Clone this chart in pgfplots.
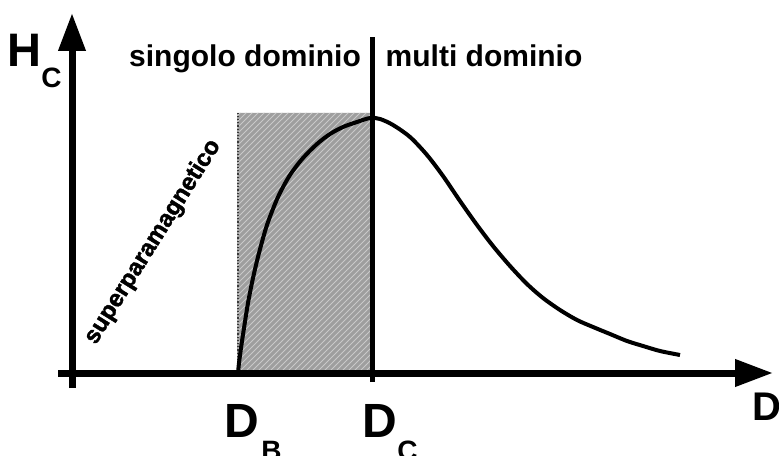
\documentclass[border=0pt]{standalone}
\usepackage{pgfplots}
\pgfplotsset{compat=1.18}
\usepackage{fontspec}
\setmainfont{Liberation Sans}
\newfontfamily\heavyfont[BoldFeatures={FakeBold=1.6}]{Liberation Sans}
\usetikzlibrary{arrows.meta,patterns}

% Coercive field H_C versus particle diameter D (schematic)
\pgfplotstableread{
x   y
166 0
167 10
169 25
172 45
176 70
181 95
187 120
195 148
206 176
218 198
231 215
245 229
258 239
271 246
285 251
298 255
308 254
321 248
338 236
355 218
371 197
388 172
405 148
421 127
438 107
455 89
471 75
488 63
505 53
521 46
538 39
555 32
571 27
588 22
608 18
}\hccurve

\begin{document}
\begin{tikzpicture}
\begin{axis}[
  scale only axis,
  width=389.5pt, height=227.5pt,
  xmin=-72, xmax=707, ymin=-82, ymax=373,
  hide axis, clip=false,
  font=\bfseries,
]
% single-domain region between D_B and D_C
\addplot[draw=none, fill=gray!76] coordinates {(165,0) (165,260) (299,260) (299,0)} \closedcycle;
\addplot[draw=none, pattern=north east lines, pattern color=gray!42] coordinates {(165,0) (165,260) (299,260) (299,0)} \closedcycle;
\addplot[gray!45!black, line width=0.6pt, densely dotted] coordinates {(166,0) (166,260)};

% H_C(D)
\addplot[black, line width=2pt, smooth] table[x=x, y=y] {\hccurve};

% axes
\addplot[black, line width=3.5pt, -{Triangle[length=19pt, width=13pt]}] coordinates {(-14,0) (701,0)};
\addplot[black, line width=3.5pt, -{Triangle[length=19pt, width=13pt]}] coordinates {(0,-15) (0,360)};
% critical diameter D_C
\addplot[black, line width=2.5pt] coordinates {(300,-9) (300,336)};

% labels
\node[anchor=base west, inner sep=0, font=\bfseries\fontsize{23.5}{24}\selectfont] at (axis cs:-65,306) {H};
\node[anchor=base west, inner sep=0, font=\bfseries\fontsize{14}{15}\selectfont] at (axis cs:-31,285) {C};
\node[anchor=base, inner sep=0, font=\bfseries\fontsize{15}{16}\selectfont] at (axis cs:173,306) {singolo dominio};
\node[anchor=base, inner sep=0, font=\bfseries\fontsize{15}{16}\selectfont] at (axis cs:412,306) {multi dominio};
\node[rotate=58, inner sep=0, font=\heavyfont\bfseries\fontsize{12}{13}\selectfont] at (axis cs:81,131) {superparamagnetico};
\node[anchor=base west, inner sep=0, font=\bfseries\fontsize{24}{25}\selectfont] at (axis cs:152,-64) {D};
\node[anchor=base west, inner sep=0, font=\bfseries\fontsize{14}{15}\selectfont] at (axis cs:189,-87) {B};
\node[anchor=base west, inner sep=0, font=\bfseries\fontsize{24}{25}\selectfont] at (axis cs:290,-64) {D};
\node[anchor=base west, inner sep=0, font=\bfseries\fontsize{14}{15}\selectfont] at (axis cs:325,-87) {C};
\node[anchor=base west, inner sep=0, font=\bfseries\fontsize{20}{21}\selectfont] at (axis cs:680,-47) {D};
\end{axis}
\pgfresetboundingbox
\path[use as bounding box] (current axis.south west) rectangle (current axis.north east);
\end{tikzpicture}
\end{document}
